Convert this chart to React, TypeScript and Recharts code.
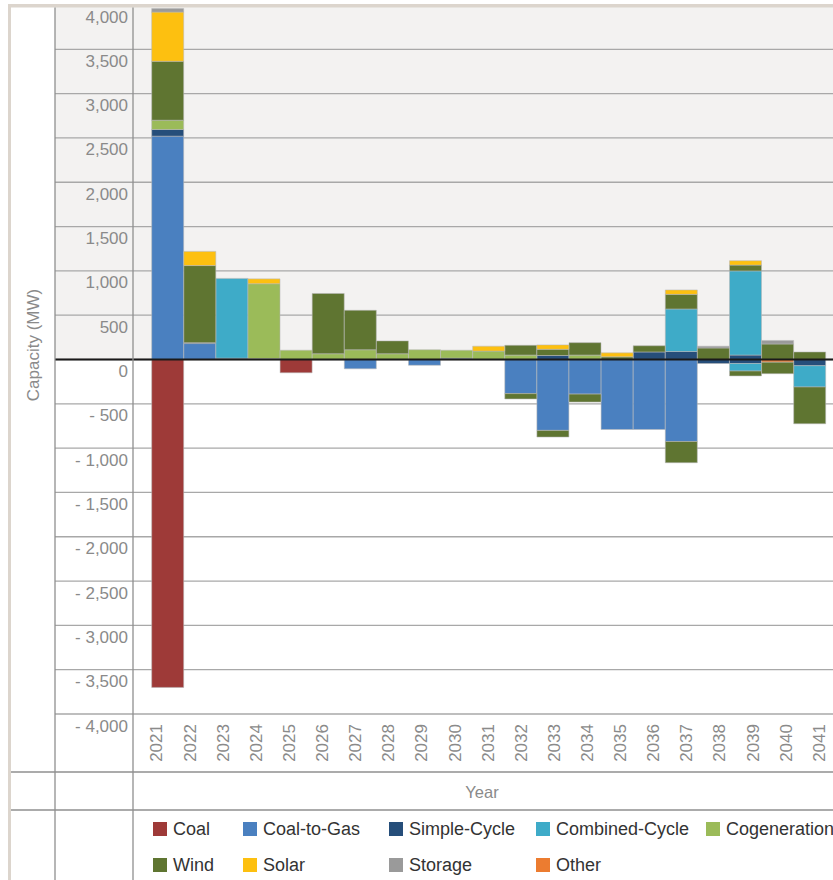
import { BarChart, Bar, XAxis, YAxis, CartesianGrid, ReferenceLine } from 'recharts';

// years on the x axis
const YEARS = [
  '2021', '2022', '2023', '2024', '2025', '2026', '2027', '2028', '2029', '2030', '2031',
  '2032', '2033', '2034', '2035', '2036', '2037', '2038', '2039', '2040', '2041',
];

// additions (MW)
const C2G_ADD = [2520, 180, 0, 0, 0, 0, 0, 0, 0, 0, 0, 0, 0, 0, 0, 0, 0, 0, 0, 0, 0];
const SC_ADD = [75, 10, 15, 10, 0, 0, 0, 0, 0, 15, 0, 0, 45, 0, 0, 85, 90, 0, 50, 0, 0];
const CC_ADD = [0, 0, 900, 0, 0, 0, 0, 0, 0, 0, 0, 0, 0, 0, 0, 0, 480, 0, 950, 0, 0];
const COGEN_ADD = [105, 0, 0, 845, 105, 65, 110, 65, 110, 90, 95, 50, 0, 50, 0, 0, 0, 0, 0, 0, 0];
const WIND_ADD = [665, 870, 0, 0, 0, 680, 445, 145, 0, 0, 0, 110, 70, 140, 30, 70, 165, 130, 65, 175, 85];
const SOLAR_ADD = [555, 160, 0, 55, 0, 0, 0, 0, 0, 0, 55, 0, 50, 0, 45, 0, 50, 0, 50, 0, 0];
const STORAGE_ADD = [40, 0, 0, 0, 0, 0, 0, 0, 0, 0, 0, 0, 0, 0, 0, 0, 0, 20, 0, 40, 0];

// retirements / conversions (MW)
const COAL_RET = [-3700, 0, 0, 0, -150, 0, 0, 0, 0, 0, 0, 0, 0, 0, 0, 0, 0, 0, 0, 0, 0];
const C2G_RET = [0, 0, 0, 0, 0, 0, -105, 0, -65, 0, 0, -385, -800, -390, -790, -790, -925, 0, 0, 0, 0];
const SC_RET = [0, 0, 0, 0, 0, 0, 0, 0, 0, 0, 0, 0, 0, 0, 0, 0, 0, -45, -45, 0, -70];
const CC_RET = [0, 0, 0, 0, 0, 0, 0, 0, 0, 0, 0, 0, 0, 0, 0, 0, 0, 0, -85, 0, -240];
const OTHER_RET = [0, 0, 0, 0, 0, 0, 0, 0, 0, 0, 0, 0, 0, 0, 0, 0, 0, 0, 0, -30, 0];
const WIND_RET = [0, 0, 0, 0, 0, 0, 0, 0, 0, 0, 0, -60, -75, -90, 0, 0, -240, 0, -55, -130, -415];

const Y_TICKS = [4000, 3500, 3000, 2500, 2000, 1500, 1000, 500, 0, -500, -1000, -1500, -2000, -2500, -3000, -3500, -4000];

const COLORS = {
  coal: '#9e3a38',
  c2g: '#4a80c0',
  sc: '#264e7a',
  cc: '#3eabc8',
  cogen: '#9bbb59',
  wind: '#5f7531',
  solar: '#fdc010',
  storage: '#9a9a9a',
  other: '#ec7c30',
};

const LEGEND = [
  { name: 'Coal', color: COLORS.coal },
  { name: 'Coal-to-Gas', color: COLORS.c2g },
  { name: 'Simple-Cycle', color: COLORS.sc },
  { name: 'Combined-Cycle', color: COLORS.cc },
  { name: 'Cogeneration', color: COLORS.cogen },
  { name: 'Wind', color: COLORS.wind },
  { name: 'Solar', color: COLORS.solar },
  { name: 'Storage', color: COLORS.storage },
  { name: 'Other', color: COLORS.other },
];

// stacking order matters: negatives stack away from zero in this order
const SERIES = [
  { key: 'coalRet', values: COAL_RET, color: COLORS.coal },
  { key: 'c2gAdd', values: C2G_ADD, color: COLORS.c2g },
  { key: 'c2gRet', values: C2G_RET, color: COLORS.c2g },
  { key: 'scAdd', values: SC_ADD, color: COLORS.sc },
  { key: 'scRet', values: SC_RET, color: COLORS.sc },
  { key: 'ccAdd', values: CC_ADD, color: COLORS.cc },
  { key: 'ccRet', values: CC_RET, color: COLORS.cc },
  { key: 'cogenAdd', values: COGEN_ADD, color: COLORS.cogen },
  { key: 'otherRet', values: OTHER_RET, color: COLORS.other },
  { key: 'windAdd', values: WIND_ADD, color: COLORS.wind },
  { key: 'windRet', values: WIND_RET, color: COLORS.wind },
  { key: 'solarAdd', values: SOLAR_ADD, color: COLORS.solar },
  { key: 'storageAdd', values: STORAGE_ADD, color: COLORS.storage },
];

const data = YEARS.map((year, i) => {
  const row: Record<string, string | number> = { year };
  SERIES.forEach((s) => {
    row[s.key] = s.values[i];
  });
  return row;
});

// grey band above zero, white below (one fill per grid stripe, top to bottom)
const STRIPES = Y_TICKS.slice(0, -1).map((v) => (v > 0 ? '#f3f2f1' : '#ffffff'));

const FONT = '"Liberation Sans", Arial, Helvetica, sans-serif';
const AXIS_GRAY = '#8a8a8a';
const LINE_GRAY = '#8f8f8f';

const fmtY = (v: number) => {
  const s = Math.abs(v).toLocaleString('en-US');
  return v < 0 ? `- ${s}` : s;
};

const YTick = (props: any) => {
  const { x, y, payload } = props;
  return (
    <text x={x + 73} y={y + 12} textAnchor="end" dominantBaseline="central" fill={AXIS_GRAY} fontSize={17} fontFamily={FONT}>
      {fmtY(payload.value)}
    </text>
  );
};

const XTick = (props: any) => {
  const { x, y, payload, index } = props;
  // labels in the original are spread a little wider than the bars
  const tx = x - 10.8 + index * 1.02;
  const ty = y + 10;
  return (
    <text
      x={tx}
      y={ty}
      transform={`rotate(-90 ${tx} ${ty})`}
      textAnchor="end"
      dominantBaseline="central"
      fill={AXIS_GRAY}
      fontSize={17}
      fontFamily={FONT}
    >
      {payload.value}
    </text>
  );
};

export default function App() {
  return (
    <div style={{ position: 'absolute', left: 0, top: 0, width: 833, height: 880, background: '#fff', overflow: 'hidden', fontFamily: FONT }}>
      <BarChart
        width={833}
        height={780}
        data={data}
        stackOffset="sign"
        barCategoryGap={0}
        barGap={0}
        margin={{ top: 5, right: 0, bottom: 8, left: 0 }}
      >
        <CartesianGrid vertical={false} stroke="#a8a8a8" strokeWidth={1.3} horizontalFill={STRIPES} fillOpacity={1} />
        <XAxis
          dataKey="year"
          height={58}
          axisLine={false}
          tickLine={false}
          tickSize={0}
          tickMargin={0}
          interval={0}
          padding={{ left: 96.7, right: 7.2 }}
          tick={<XTick />}
        />
        <YAxis
          width={55}
          domain={[-4000, 4000]}
          ticks={Y_TICKS}
          type="number"
          allowDataOverflow
          axisLine={false}
          tickLine={false}
          tickSize={0}
          tickMargin={0}
          interval={0}
          tick={<YTick />}
        />
        {SERIES.map((s) => (
          <Bar
            key={s.key}
            dataKey={s.key}
            stackId="a"
            fill={s.color}
            stroke="#b8b8b8"
            strokeOpacity={0.55}
            strokeWidth={1}
            isAnimationActive={false}
            legendType="none"
          />
        ))}
        <ReferenceLine y={0} stroke="#1a1a1a" strokeWidth={2} />
      </BarChart>

      {/* table frame around the chart */}
      <svg width={833} height={880} style={{ position: 'absolute', left: 0, top: 0, pointerEvents: 'none' }}>
        <rect x={8} y={4} width={825} height={3.5} fill="#dcd5cd" />
        <rect x={8} y={4} width={3} height={876} fill="#dcd5cd" />
        <line x1={55} y1={7.5} x2={55} y2={880} stroke={LINE_GRAY} strokeWidth={1.3} />
        <line x1={133} y1={7.5} x2={133} y2={880} stroke={LINE_GRAY} strokeWidth={1.3} />
        <line x1={11} y1={772} x2={833} y2={772} stroke={LINE_GRAY} strokeWidth={1.3} />
        <line x1={11} y1={810} x2={833} y2={810} stroke={LINE_GRAY} strokeWidth={1.3} />
        <text x={33} y={345} transform="rotate(-90 33 345)" textAnchor="middle" dominantBaseline="central" fill={AXIS_GRAY} fontSize={17} fontFamily={FONT}>
          Capacity (MW)
        </text>
        <text x={482} y={792} textAnchor="middle" dominantBaseline="central" fill={AXIS_GRAY} fontSize={16.5} fontFamily={FONT}>
          Year
        </text>
      </svg>

      <div
        style={{
          position: 'absolute',
          left: 153,
          top: 818,
          display: 'grid',
          gridTemplateColumns: '90px 146px 147px 170px auto',
          rowGap: 14,
          fontSize: 18,
          color: '#333',
        }}
      >
        {LEGEND.map((l) => (
          <div key={l.name} style={{ display: 'flex', alignItems: 'center', height: 22, whiteSpace: 'nowrap' }}>
            <span style={{ display: 'inline-block', width: 14, height: 14, background: l.color, marginRight: 6 }} />
            {l.name}
          </div>
        ))}
      </div>
    </div>
  );
}
